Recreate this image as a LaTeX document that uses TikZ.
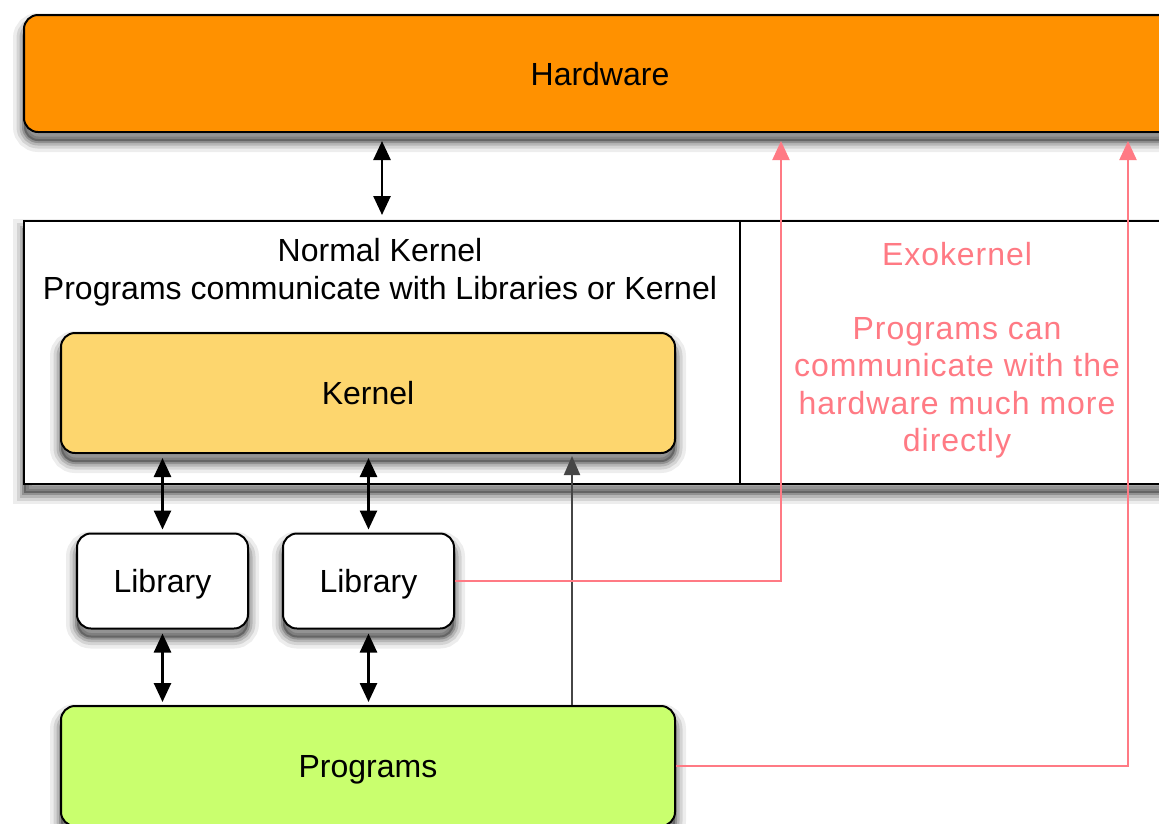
\documentclass[tikz,border=0pt]{standalone}
\usepackage{fontspec}
\setmainfont{Liberation Sans}
\newfontfamily\pinkfont[LetterSpace=3]{Liberation Sans}
\usetikzlibrary{arrows.meta}
\definecolor{hwc}{RGB}{255,145,0}
\definecolor{kernc}{RGB}{253,214,110}
\definecolor{progc}{RGB}{201,255,110}
\definecolor{pinkc}{RGB}{255,122,132}
\definecolor{grayc}{RGB}{70,70,70}
\begin{document}
\begin{tikzpicture}[x=1pt,y=-1pt,
  font=\fontsize{32}{38}\selectfont,
  shad/.style={
    preaction={draw=black,line width=22pt,opacity=0.07,transform canvas={yshift=-9pt}},
    preaction={draw=black,line width=15pt,opacity=0.1,transform canvas={yshift=-9pt}},
    preaction={draw=black,line width=9pt,opacity=0.14,transform canvas={yshift=-9pt}},
    preaction={draw=black,line width=4pt,opacity=0.2,transform canvas={yshift=-9pt}},
    preaction={fill=black,opacity=0.3,transform canvas={yshift=-9pt}}},
  rbox/.style={draw=black,line width=2pt,rounded corners=14pt,shad,inner sep=0pt,text depth=0pt},
  frame/.style={draw=black,line width=2pt,fill=white,inner sep=0pt},
  dbl/.style={line width=2.6pt,{Triangle[length=19pt,width=17pt]}-{Triangle[length=19pt,width=17pt]}},
  single/.style={line width=2pt,draw=grayc,-{Triangle[length=19pt,width=16pt]}},
  pk/.style={line width=2.2pt,draw=pinkc,-{Triangle[length=19pt,width=17pt]}}]
\useasboundingbox (0,0) rectangle (1159,823);
\clip (0,0) rectangle (1159,823);
\fill[white] (0,0) rectangle (1159,823);
% boxes
\node[rbox,fill=hwc,minimum width=1152,minimum height=117] (hw) at (600,73.5) {Hardware};
\coordinate (fnw) at (24,221);
\coordinate (fse) at (1176,484);
\path[shad,fill=white] (fnw) rectangle (fse);
\node[frame,minimum width=436,minimum height=263] (exo) at (958,352.5) {};
\node[frame,minimum width=716,minimum height=263] (nk) at (382,352.5) {};
\node[align=center] (nkt) at (380,272) {Normal Kernel\\Programs communicate with Libraries or Kernel};
\node[align=center,text=pinkc,font=\pinkfont\fontsize{32}{37.2}\selectfont] (exot) at (957,350)
  {Exokernel\\[37.2pt]Programs can\\communicate with the\\hardware much more\\directly};
\node[rbox,fill=kernc,minimum width=614,minimum height=120] (k) at (368,393) {Kernel};
\node[rbox,fill=white,minimum width=171,minimum height=95] (l1) at (162.5,581) {Library};
\node[rbox,fill=white,minimum width=171,minimum height=95] (l2) at (368.5,581) {Library};
\node[rbox,fill=progc,minimum width=614,minimum height=120] (pr) at (368,766) {Programs};
% connectors
\draw[dbl,shorten <=8pt,shorten >=5pt] (nk.north |- hw.south) -- (nk.north);
\draw[dbl,shorten <=4pt,shorten >=3pt] (l1.north |- k.south) -- (l1.north);
\draw[dbl,shorten <=4pt,shorten >=3pt] (l2.north |- k.south) -- (l2.north);
\draw[dbl,shorten <=4pt,shorten >=3pt] (l1.south) -- (l1.south |- pr.north);
\draw[dbl,shorten <=4pt,shorten >=3pt] (l2.south) -- (l2.south |- pr.north);
\draw[single,shorten >=2pt] ([xshift=204pt]pr.north) -- ([xshift=204pt]k.south);
\draw[pk,shorten >=8pt] (l2.east) -| ([xshift=181pt]hw.south);
\draw[pk,shorten >=8pt] (pr.east) -| ([xshift=528pt]hw.south);
\end{tikzpicture}
\end{document}
